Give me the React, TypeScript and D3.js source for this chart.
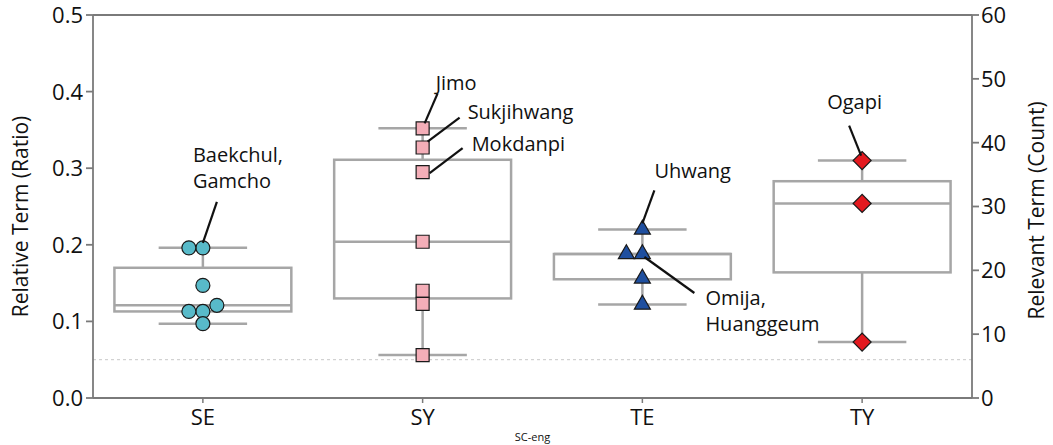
import * as d3 from "d3";
import React from "react";

// categories and values
const categories = ["SE", "SY", "TE", "TY"];

const seValues = [0.196, 0.196, 0.147, 0.113, 0.113, 0.121, 0.097];
const syValues = [0.352, 0.327, 0.295, 0.204, 0.14, 0.123, 0.056];
const teValues = [0.22, 0.188, 0.188, 0.156, 0.122];
const tyValues = [0.31, 0.254, 0.073];

// box stats: [whisker low, q1, median, q3, whisker high]
const seBox = [0.097, 0.113, 0.121, 0.17, 0.196];
const syBox = [0.056, 0.13, 0.204, 0.311, 0.352];
const teBox = [0.122, 0.155, 0.188, 0.188, 0.22];
const tyBox = [0.073, 0.164, 0.254, 0.283, 0.31];

const leftTicks = [0, 0.1, 0.2, 0.3, 0.4, 0.5];
const rightTicks = [0, 10, 20, 30, 40, 50, 60];
const refLine = 0.05;

const annoLabels = [["Baekchul,", "Gamcho"], ["Jimo"], ["Sukjihwang"], ["Mokdanpi"], ["Uhwang"], ["Omija,", "Huanggeum"], ["Ogapi"]];
const annoCats = ["SE", "SY", "SY", "SY", "TE", "TE", "TY"];
const annoValues = [0.196, 0.352, 0.327, 0.295, 0.22, 0.188, 0.31];

const groups = [
	{ cat: "SE", values: seValues, box: seBox, shape: "circle", fill: "#58bac9", size: 14 },
	{ cat: "SY", values: syValues, box: syBox, shape: "square", fill: "#f4aeb8", size: 13 },
	{ cat: "TE", values: teValues, box: teBox, shape: "triangle", fill: "#1f4f9f", size: 16 },
	{ cat: "TY", values: tyValues, box: tyBox, shape: "diamond", fill: "#e3191f", size: 18 },
];

// layout: label / leader line offsets relative to the annotated point (px)
const annoLayout = [
	{ l0: [0, -5], l1: [14, -46], t: [-10, -86] },
	{ l0: [2, -5], l1: [15, -35], t: [13, -38] },
	{ l0: [5, -6], l1: [37, -30], t: [45, -29] },
	{ l0: [7, 1], l1: [40, -24], t: [49, -21] },
	{ l0: [0, -6], l1: [12, -39], t: [12, -51] },
	{ l0: [2, 3], l1: [52, 39], t: [63, 51] },
	{ l0: [-1, -5], l1: [-13, -35], t: [-35, -52] },
];

const W = 1053, H = 445;
const margin = { top: 15, right: 81, bottom: 47, left: 93 };
const FONT = "'Open Sans', 'Noto Sans', sans-serif";
const axisColor = "#7a7a7a";
const boxColor = "#a6a6a6";

const x = d3.scalePoint<string>().domain(categories).range([margin.left, W - margin.right]).padding(0.5);
const y = d3.scaleLinear().domain([0, 0.5]).range([H - margin.bottom, margin.top]);
const yRight = d3.scaleLinear().domain([0, 60]).range([H - margin.bottom, margin.top]);
const boxW = x.step() * 0.805;

// simple greedy dodge so overlapping markers sit side by side
function dodge(values: number[], size: number): number[] {
	const placed: { dx: number; py: number }[] = [];
	return values.map((v) => {
		const py = y(v);
		let dx = 0;
		for (let k = 0; k < 20; k++) {
			const step = Math.ceil(k / 2) * (k % 2 === 1 ? -1 : 1);
			dx = step * size;
			const hit = placed.some((p) => Math.abs(p.py - py) < size * 0.75 && Math.abs(p.dx - dx) < size * 0.99);
			if (!hit) break;
		}
		placed.push({ dx, py });
		return dx;
	});
}

const symbolFor = (shape: string, size: number) => {
	if (shape === "circle") return d3.symbol(d3.symbolCircle, Math.PI * (size / 2) ** 2)();
	if (shape === "square") return d3.symbol(d3.symbolSquare, size * size)();
	if (shape === "triangle") return d3.symbol(d3.symbolTriangle, (Math.sqrt(3) / 4) * size * size)();
	return d3.symbol(d3.symbolSquare, (size / Math.SQRT2) ** 2)();
};

const App = () => {
	const x0 = margin.left, x1 = W - margin.right;
	const y0 = H - margin.bottom, y1 = margin.top;
	return (
		<svg width={W} height={H} style={{ position: "absolute", left: 0, top: 0, fontFamily: FONT }}>
			<rect width={W} height={H} fill="#fff" />
			{/* reference line */}
			<line x1={x0} x2={x1} y1={y(refLine)} y2={y(refLine)} stroke="#c8c8c8" strokeWidth={1} strokeDasharray="3,3" />

			{/* boxes */}
			{groups.map((g) => {
				const cx = x(g.cat)!;
				const [lo, q1, med, q3, hi] = g.box;
				return (
					<g key={g.cat} stroke={boxColor} strokeWidth={2.5} fill="none">
						<line x1={cx} x2={cx} y1={y(hi)} y2={y(q3)} />
						<line x1={cx} x2={cx} y1={y(q1)} y2={y(lo)} />
						<line x1={cx - boxW / 4} x2={cx + boxW / 4} y1={y(hi)} y2={y(hi)} />
						<line x1={cx - boxW / 4} x2={cx + boxW / 4} y1={y(lo)} y2={y(lo)} />
						<rect x={cx - boxW / 2} y={y(q3)} width={boxW} height={y(q1) - y(q3)} />
						<line x1={cx - boxW / 2} x2={cx + boxW / 2} y1={y(med)} y2={y(med)} />
					</g>
				);
			})}

			{/* points */}
			{groups.map((g) => {
				const offs = dodge(g.values, g.size);
				const path = symbolFor(g.shape, g.size)!;
				return (
					<g key={"p" + g.cat}>
						{g.values.map((v, i) => (
							<path
								key={i}
								d={path}
								transform={`translate(${x(g.cat)! + offs[i]},${y(v)})${g.shape === "diamond" ? " rotate(45)" : ""}`}
								fill={g.fill}
								stroke="#1a1a1a"
								strokeWidth={1.2}
							/>
						))}
					</g>
				);
			})}

			{/* annotations */}
			{annoLabels.map((lines, i) => {
				const ax = x(annoCats[i])!;
				const ay = y(annoValues[i]);
				const L = annoLayout[i];
				return (
					<g key={"a" + i}>
						<line x1={ax + L.l0[0]} y1={ay + L.l0[1]} x2={ax + L.l1[0]} y2={ay + L.l1[1]} stroke="#111" strokeWidth={2.2} />
						<text x={ax + L.t[0]} y={ay + L.t[1]} fontSize={20} fill="#111">
							{lines.map((s, j) => (
								<tspan key={j} x={ax + L.t[0]} dy={j === 0 ? 0 : 26}>
									{s}
								</tspan>
							))}
						</text>
					</g>
				);
			})}

			{/* frame and axes */}
			<g stroke={axisColor} strokeWidth={1.8} fill="none">
				<line x1={x0} x2={x1} y1={y1} y2={y1} />
				<line x1={x0} x2={x1} y1={y0} y2={y0} />
				<line x1={x0} x2={x0} y1={y1} y2={y0} />
				<line x1={x1} x2={x1} y1={y1} y2={y0} />
			</g>
			{leftTicks.map((t) => (
				<g key={"l" + t}>
					<line x1={x0 - 7} x2={x0} y1={y(t)} y2={y(t)} stroke={axisColor} strokeWidth={1.8} />
					<text x={x0 - 10} y={y(t)} dy="0.36em" textAnchor="end" fontSize={22} fill="#111">
						{d3.format(".1f")(t)}
					</text>
				</g>
			))}
			{rightTicks.map((t) => (
				<g key={"r" + t}>
					<line x1={x1} x2={x1 + 7} y1={yRight(t)} y2={yRight(t)} stroke={axisColor} strokeWidth={1.8} />
					<text x={x1 + 9} y={yRight(t)} dy="0.36em" textAnchor="start" fontSize={22} fill="#111">
						{t}
					</text>
				</g>
			))}
			{categories.map((c) => (
				<g key={"x" + c}>
					<line x1={x(c)!} x2={x(c)!} y1={y0} y2={y0 + 5} stroke={axisColor} strokeWidth={1.5} />
					<text x={x(c)!} y={y0 + 27} textAnchor="middle" fontSize={22} fill="#111">
						{c}
					</text>
				</g>
			))}
			<text x={(x0 + x1) / 2} y={441} textAnchor="middle" fontSize={11} fill="#111">
				SC-eng
			</text>
			<text transform={`translate(28,${(y0 + y1) / 2 + 10}) rotate(-90)`} textAnchor="middle" fontSize={21} fill="#111">
				Relative Term (Ratio)
			</text>
			<text transform={`translate(1044,${(y0 + y1) / 2 + 4}) rotate(-90)`} textAnchor="middle" fontSize={21} fill="#111">
				Relevant Term (Count)
			</text>
		</svg>
	);
};

export default App;
